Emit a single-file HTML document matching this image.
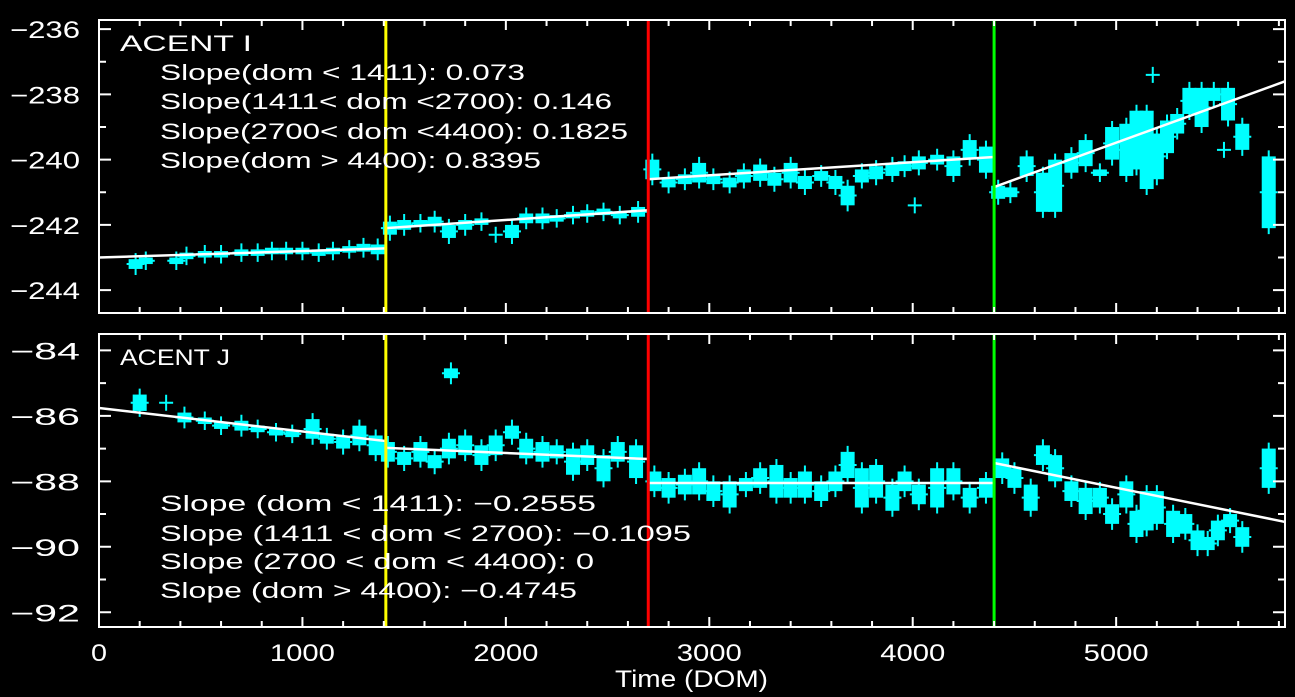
<!DOCTYPE html>
<html><head><meta charset="utf-8"><style>
html,body{margin:0;padding:0;background:#000;}
svg{display:block;font-family:"Liberation Sans",sans-serif;}
</style></head><body>
<svg id="chart" width="1295" height="697" viewBox="0 0 1295 697"></svg>
<script>
// ---- data ----
const xTicks = [0,1000,2000,3000,4000,5000];
const topTicks = [-236,-238,-240,-242,-244];
const botTicks = [-84,-86,-88,-90,-92];
const breakDoms = [1410,2700,4400];
const breakColors = ['#ffff00','#ff0000','#00ff00'];
// top panel (ACENT I): dom, value, half-height (0 => cross)
const topDom = [180,230,380,430,520,600,700,780,850,920,1000,1080,1150,1230,1300,1370,
 1430,1500,1580,1650,1720,1800,1880,1950,2030,2100,2180,2250,2330,2400,2480,2560,2650,
 2720,2800,2880,2950,3020,3100,3170,3250,3320,3400,3470,3550,3620,3680,3750,3820,3900,3960,4030,4120,4200,4280,4360,4010,
 4420,4480,4560,4640,4700,4780,4850,4920,4980,5050,5100,5150,5200,5250,5300,5360,5420,5480,5550,5620,5750,5180,5530];
const topVal = [-243.2,-243.1,-243.1,-242.95,-242.9,-242.9,-242.85,-242.85,-242.8,-242.8,-242.8,-242.85,-242.8,-242.75,-242.7,-242.75,
 -242.1,-242.0,-241.95,-241.9,-242.2,-242.0,-241.9,-242.3,-242.2,-241.8,-241.8,-241.8,-241.7,-241.65,-241.6,-241.7,-241.6,
 -240.3,-240.7,-240.6,-240.4,-240.6,-240.7,-240.5,-240.4,-240.6,-240.4,-240.7,-240.5,-240.7,-241.1,-240.5,-240.4,-240.3,-240.2,-240.1,-240.0,-240.2,-239.7,-240.0,-241.4,
 -241.0,-241.0,-240.2,-241.0,-240.8,-240.1,-239.8,-240.4,-239.5,-239.7,-239.4,-239.7,-239.9,-239.3,-238.9,-238.2,-238.4,-238.0,-238.3,-239.3,-241.0,-237.4,-239.7];
const topErr = [0.15,0.1,0.1,0.1,0.1,0.1,0.1,0.1,0.1,0.1,0.1,0.1,0.1,0.1,0.12,0.15,
 0.2,0.15,0.1,0.15,0.2,0.15,0.1,0,0.2,0.15,0.15,0.1,0.1,0.1,0.1,0.1,0.15,
 0.3,0.15,0.15,0.3,0.15,0.15,0.2,0.25,0.2,0.3,0.2,0.15,0.2,0.3,0.2,0.2,0.2,0.15,0.2,0.15,0.3,0.3,0.4,0,
 0.2,0.15,0.3,0.6,0.8,0.3,0.4,0.1,0.5,0.8,0.9,1.2,0.7,0.5,0.3,0.4,0.6,0.2,0.5,0.4,1.1,0,0];
const topFitDom = [[0,1411],[1411,2700],[2700,4400],[4400,5830]];
const topFitVal = [[-243.0,-242.72],[-242.1,-241.55],[-240.6,-239.92],[-240.84,-237.6]];
// bottom panel (ACENT J)
const botDom = [200,330,420,520,600,700,780,870,950,1050,1120,1200,1280,1360,1730,
 1420,1500,1580,1650,1720,1800,1880,1950,2030,2100,2180,2250,2330,2400,2480,2550,2640,
 2730,2800,2880,2950,3020,3100,3180,3250,3330,3400,3470,3550,3620,3680,3750,3820,3900,3960,4030,4120,4200,4280,4360,
 4440,4500,4580,4640,4700,4780,4850,4920,4980,5050,5100,5150,5200,5280,5340,5400,5450,5500,5560,5620,5750];
const botVal = [-85.6,-85.6,-86.05,-86.15,-86.3,-86.3,-86.4,-86.5,-86.55,-86.4,-86.7,-86.8,-86.6,-86.9,-84.7,
 -87.1,-87.3,-87.1,-87.4,-87.0,-86.9,-87.2,-86.9,-86.5,-87.0,-87.1,-87.1,-87.4,-87.2,-87.6,-87.1,-87.4,
 -88.0,-88.2,-88.1,-88.0,-88.3,-88.4,-88.1,-87.9,-88.0,-88.2,-88.1,-88.3,-88.0,-87.5,-88.2,-88.0,-88.5,-88.0,-88.4,-88.2,-88.0,-88.5,-88.2,
 -87.6,-87.9,-88.5,-87.2,-87.6,-88.3,-88.6,-88.5,-89.0,-88.4,-89.3,-88.9,-88.8,-89.3,-89.3,-89.8,-89.9,-89.5,-89.2,-89.7,-87.6];
const botErr = [0.25,0,0.15,0.1,0.1,0.15,0.1,0.1,0.1,0.3,0.15,0.2,0.3,0.3,0.15,
 0.3,0.2,0.3,0.2,0.3,0.3,0.3,0.3,0.2,0.3,0.3,0.2,0.4,0.3,0.4,0.3,0.5,
 0.3,0.3,0.3,0.4,0.3,0.4,0.2,0.3,0.5,0.3,0.4,0.3,0.3,0.4,0.6,0.5,0.4,0.3,0.3,0.6,0.4,0.3,0.3,
 0.3,0.3,0.4,0.3,0.4,0.3,0.4,0.3,0.3,0.4,0.4,0.6,0.5,0.4,0.3,0.3,0.2,0.3,0.2,0.3,0.6];
const botFitDom = [[0,1411],[1411,2700],[2700,4400],[4400,5830]];
const botFitVal = [[-85.76,-86.77],[-86.98,-87.32],[-88.05,-88.05],[-87.44,-89.24]];

// ---- drawing ----
const NS='http://www.w3.org/2000/svg';
const svg=document.getElementById('chart');
const X0=99,X1=1285,DMIN=0,DMAX=5830;
const xs=d=>X0+(d-DMIN)/(DMAX-DMIN)*(X1-X0);
function mk(tag,attrs,parent){const e=document.createElementNS(NS,tag);for(const k in attrs)e.setAttribute(k,attrs[k]);(parent||svg).appendChild(e);return e;}

function panel(name,top,bot,vmax,vmin,ticks,dom,val,err,fd,fv,label,labelW,slopes,slopeY,slopeW){
  const g=mk('g',{});
  
  
  const ys=v=>top+(vmax-v)/(vmax-vmin)*(bot-top);
  for(let i=0;i<dom.length;i++){
    const x=xs(dom[i]),y=ys(val[i]);
    if(err[i]===0){
      const c=mk('path',{d:`M${x-7} ${y}H${x+7}M${x} ${y-8}V${y+8}`,stroke:'#00ffff','stroke-width':2},g);
      
      
    }else{
      const h=Math.abs(ys(val[i]+err[i])-y);
      const r=mk('rect',{x:x-7,y:y-h,width:14,height:2*h,fill:'#00ffff'},g);
      
      
      mk('path',{d:`M${x} ${y-h-6}V${y+h+6}M${x-9} ${y}H${x+9}`,stroke:'#00ffff','stroke-width':2},g);
    }
  }
  for(let i=0;i<fd.length;i++){
    const l=mk('line',{x1:xs(fd[i][0]),y1:ys(fv[i][0]),x2:xs(fd[i][1]),y2:ys(fv[i][1]),stroke:'#fff','stroke-width':2.5},g);
    
    
  }
  for(let i=0;i<breakDoms.length;i++){
    const l=mk('line',{x1:xs(breakDoms[i]),y1:top,x2:xs(breakDoms[i]),y2:bot,stroke:breakColors[i],'stroke-width':3},g);
    
    
  }
  const f=mk('rect',{x:X0,y:top,width:X1-X0,height:bot-top,fill:'none',stroke:'#fff','stroke-width':2},g);
  
  
  for(let d=0;d<=5800;d+=200){
    const x=xs(d),len=d%1000===0?10:6;
    mk('path',{d:`M${x} ${bot}v${-len}M${x} ${top}v${len}`,stroke:'#fff','stroke-width':2},g);
  }
  for(let v=Math.ceil(vmin);v<=vmax;v+=1){
    const y=ys(v),len=v%2===0?12:7;
    mk('path',{d:`M${X0} ${y}h${len}M${X1} ${y}h${-len}`,stroke:'#fff','stroke-width':2},g);
  }
  ticks.forEach(t=>{
    const tx=mk('text',{x:10,y:ys(t)+9,fill:'#fff','font-size':24,textLength:70,lengthAdjust:'spacingAndGlyphs'},g);
    tx.textContent=String(t).replace('-','\u2212');
    
    
  });
  const lb=mk('text',{x:120,y:top+31,fill:'#fff','font-size':22,textLength:labelW,lengthAdjust:'spacingAndGlyphs'},g);
  lb.textContent=label;
  
  
  slopes.forEach((s,i)=>{
    const t=mk('text',{x:160,y:slopeY[i]+8,fill:'#fff','font-size':22,textLength:slopeW[i],lengthAdjust:'spacingAndGlyphs'},g);
    t.textContent=s;
    
    
  });
}
panel('acent-i',20,313,-235.72,-244.7,topTicks,topDom,topVal,topErr,topFitDom,topFitVal,'ACENT I',132,
 ['Slope(dom < 1411): 0.073','Slope(1411< dom <2700): 0.146','Slope(2700< dom <4400): 0.1825','Slope(dom > 4400): 0.8395'],[72,101,131,160],[365,452,468,381]);
panel('acent-j',334,627,-83.5,-92.45,botTicks,botDom,botVal,botErr,botFitDom,botFitVal,'ACENT J',110,
 ['Slope (dom < 1411): \u22120.2555','Slope (1411 < dom < 2700): \u22120.1095','Slope (2700 < dom < 4400): 0','Slope (dom > 4400): \u22120.4745'],[503,533,561,590],[436,531,434,417]);
xTicks.forEach(d=>{
  const w=d===0?16:65;
  const t=mk('text',{x:xs(d)-w/2,y:661,fill:'#fff','font-size':24,textLength:w,lengthAdjust:'spacingAndGlyphs'});
  t.textContent=d;
  
  
});
const xt=mk('text',{x:615,y:687,fill:'#fff','font-size':24,textLength:153,lengthAdjust:'spacingAndGlyphs'});
xt.textContent='Time (DOM)';


</script>
</body></html>
